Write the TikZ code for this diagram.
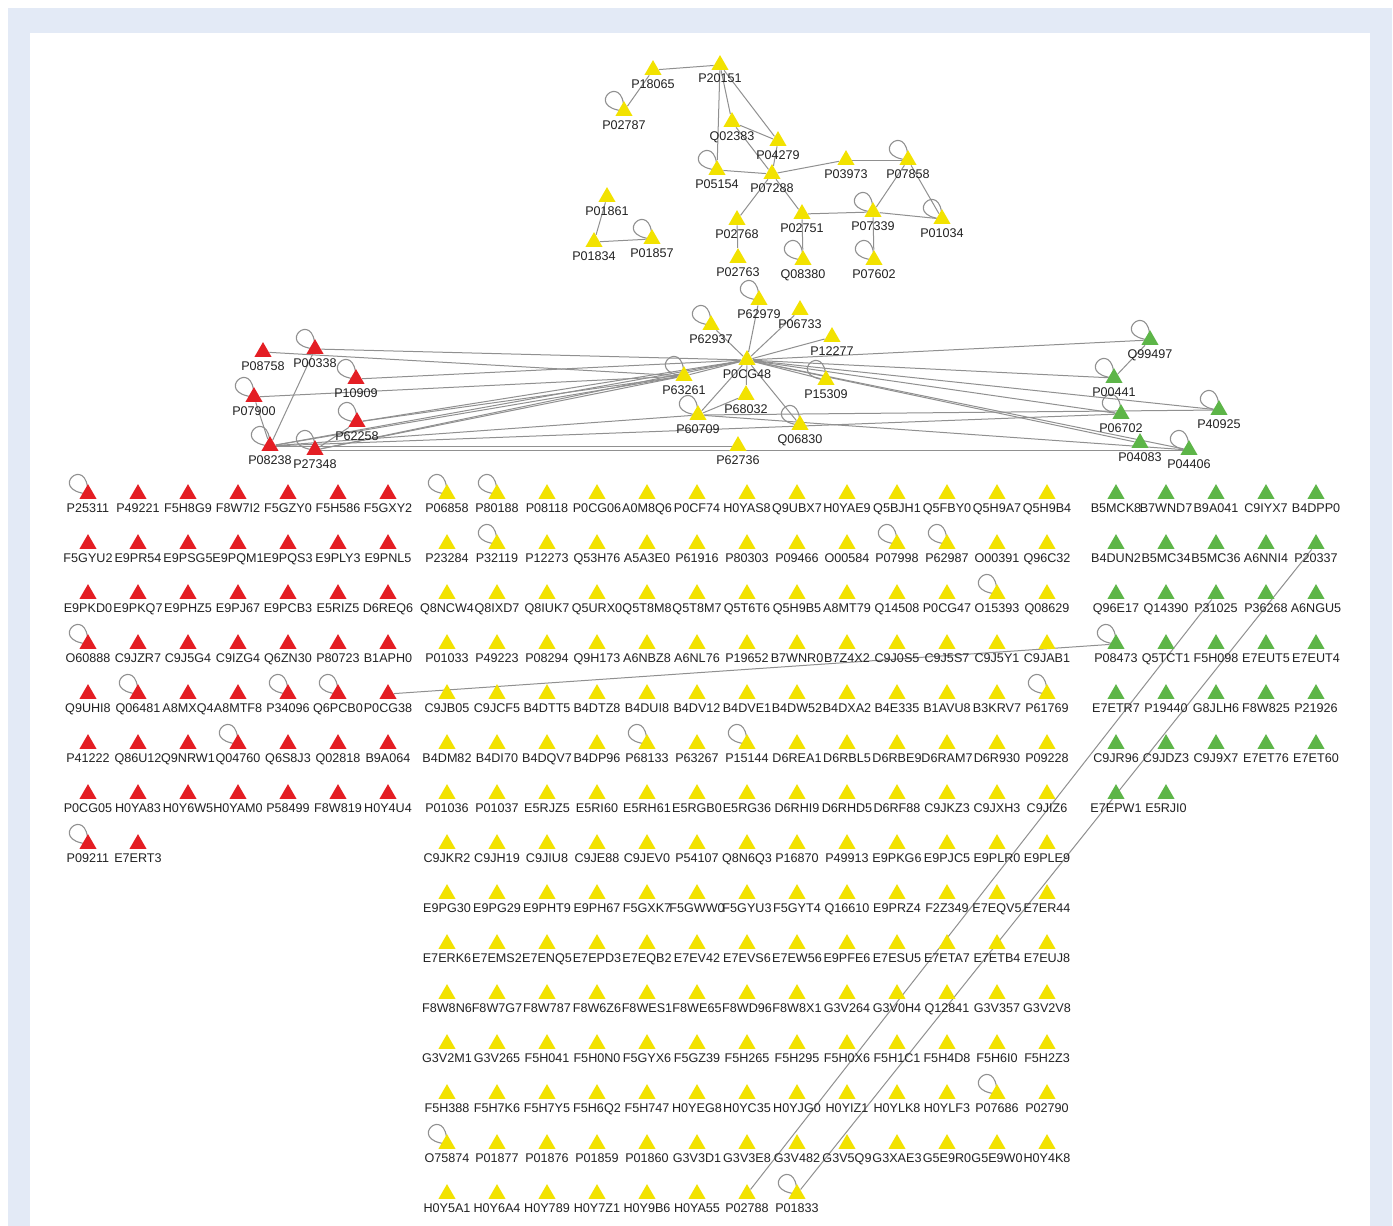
\documentclass[tikz,border=0pt]{standalone}
\usepackage{fontspec}
\setmainfont{Liberation Sans}
\usetikzlibrary{shapes.geometric}
\definecolor{bgblue}{HTML}{E3EAF6}
\definecolor{cred}{HTML}{E41E24}
\definecolor{cyel}{HTML}{F2E200}
\definecolor{cgrn}{HTML}{5DB548}
\definecolor{cedge}{HTML}{909090}
\definecolor{labc}{HTML}{222222}
\pgfdeclarelayer{back}
\pgfdeclarelayer{bg}
\pgfsetlayers{back,bg,main}
\newcommand{\labfont}{\fontsize{6.3}{7}\selectfont}
\tikzset{
 tri/.style={regular polygon, regular polygon sides=3, minimum size=9.9pt, inner sep=0pt, draw=none},
 lab/.style={font=\labfont, inner sep=0pt, anchor=base, text=labc},
 link/.style={draw=cedge, line width=0.5pt},
 selfloop/.style={draw=cedge, line width=0.55pt},
}
\newcommand{\TN}[4]{\node[tri,fill=#1] (#2) at (#3,#4) {}; \node[lab] (#2-t) at (#3,#4+18) {#2};}
\newcommand{\LP}[1]{\draw[selfloop] (#1.center) .. controls +(0,-42) and +(-42,-4) .. (#1.center);}
\begin{document}
\begin{tikzpicture}[x=0.5pt,y=-0.5pt]
\useasboundingbox (0,0) rectangle (1393,1226);
\begin{pgfonlayer}{back}
\fill[white] (0,0) rectangle (1393,1226);
\fill[bgblue] (8,8) rectangle (1392,1226);
\fill[white] (30,33) rectangle (1370,1226);
\end{pgfonlayer}

% ---------- top cluster ----------
\TN{cyel}{P18065}{653}{70}
\TN{cyel}{P20151}{720}{65}
\TN{cyel}{P02787}{624}{111}
\TN{cyel}{Q02383}{732}{122}
\TN{cyel}{P04279}{778}{141}
\TN{cyel}{P05154}{717}{170}
\TN{cyel}{P07288}{772}{174}
\TN{cyel}{P03973}{846}{160}
\TN{cyel}{P07858}{908}{160}
\TN{cyel}{P01861}{607}{197}
\TN{cyel}{P01834}{594}{242}
\TN{cyel}{P01857}{652}{239}
\TN{cyel}{P02768}{737}{220}
\TN{cyel}{P02751}{802}{214}
\TN{cyel}{P07339}{873}{212}
\TN{cyel}{P01034}{942}{219}
\TN{cyel}{P02763}{738}{258}
\TN{cyel}{Q08380}{803}{260}
\TN{cyel}{P07602}{874}{260}

% ---------- middle cluster ----------
\TN{cred}{P08758}{263}{352}
\TN{cred}{P00338}{315}{349}
\TN{cred}{P10909}{356}{379}
\TN{cred}{P07900}{254}{397}
\TN{cred}{P62258}{357}{422}
\TN{cred}{P08238}{270}{446}
\TN{cred}{P27348}{315}{450}
\TN{cyel}{P63261}{684}{376}
\TN{cyel}{P62937}{711}{325}
\TN{cyel}{P60709}{698}{415}
\TN{cyel}{P62736}{738}{446}
\TN{cyel}{P0CG48}{747}{360}
\TN{cyel}{P62979}{759}{300}
\TN{cyel}{P06733}{800}{310}
\TN{cyel}{P12277}{832}{337}
\TN{cyel}{P15309}{826}{380}
\TN{cyel}{P68032}{746}{395}
\TN{cyel}{Q06830}{800}{425}
\TN{cgrn}{Q99497}{1150}{340}
\TN{cgrn}{P00441}{1114}{378}
\TN{cgrn}{P06702}{1121}{414}
\TN{cgrn}{P40925}{1219}{410}
\TN{cgrn}{P04083}{1140}{443}
\TN{cgrn}{P04406}{1189}{450}

% ---------- red grid ----------
\foreach \lab [count=\i from 0] in {P25311,P49221,F5H8G9,F8W7I2,F5GZY0,F5H586,F5GXY2,
F5GYU2,E9PR54,E9PSG5,E9PQM1,E9PQS3,E9PLY3,E9PNL5,
E9PKD0,E9PKQ7,E9PHZ5,E9PJ67,E9PCB3,E5RIZ5,D6REQ6,
O60888,C9JZR7,C9J5G4,C9IZG4,Q6ZN30,P80723,B1APH0,
Q9UHI8,Q06481,A8MXQ4,A8MTF8,P34096,Q6PCB0,P0CG38,
P41222,Q86U12,Q9NRW1,Q04760,Q6S8J3,Q02818,B9A064,
P0CG05,H0YA83,H0Y6W5,H0YAM0,P58499,F8W819,H0Y4U4,
P09211,E7ERT3}{
 \pgfmathtruncatemacro\cc{mod(\i,7)}
 \pgfmathtruncatemacro\rr{div(\i,7)}
 \node[tri,fill=cred] (\lab) at (88+50*\cc,494+50*\rr) {};
 \node[lab] (\lab-t) at (88+50*\cc,512+50*\rr) {\lab};
}

% ---------- yellow grid ----------
\foreach \lab [count=\i from 0] in {P06858,P80188,P08118,P0CG06,A0M8Q6,P0CF74,H0YAS8,Q9UBX7,H0YAE9,Q5BJH1,Q5FBY0,Q5H9A7,Q5H9B4,
P23284,P32119,P12273,Q53H76,A5A3E0,P61916,P80303,P09466,O00584,P07998,P62987,O00391,Q96C32,
Q8NCW4,Q8IXD7,Q8IUK7,Q5URX0,Q5T8M8,Q5T8M7,Q5T6T6,Q5H9B5,A8MT79,Q14508,P0CG47,O15393,Q08629,
P01033,P49223,P08294,Q9H173,A6NBZ8,A6NL76,P19652,B7WNR0,B7Z4X2,C9J0S5,C9J5S7,C9J5Y1,C9JAB1,
C9JB05,C9JCF5,B4DTT5,B4DTZ8,B4DUI8,B4DV12,B4DVE1,B4DW52,B4DXA2,B4E335,B1AVU8,B3KRV7,P61769,
B4DM82,B4DI70,B4DQV7,B4DP96,P68133,P63267,P15144,D6REA1,D6RBL5,D6RBE9,D6RAM7,D6R930,P09228,
P01036,P01037,E5RJZ5,E5RI60,E5RH61,E5RGB0,E5RG36,D6RHI9,D6RHD5,D6RF88,C9JKZ3,C9JXH3,C9JIZ6,
C9JKR2,C9JH19,C9JIU8,C9JE88,C9JEV0,P54107,Q8N6Q3,P16870,P49913,E9PKG6,E9PJC5,E9PLR0,E9PLE9,
E9PG30,E9PG29,E9PHT9,E9PH67,F5GXK7,F5GWW0,F5GYU3,F5GYT4,Q16610,E9PRZ4,F2Z349,E7EQV5,E7ER44,
E7ERK6,E7EMS2,E7ENQ5,E7EPD3,E7EQB2,E7EV42,E7EVS6,E7EW56,E9PFE6,E7ESU5,E7ETA7,E7ETB4,E7EUJ8,
F8W8N6,F8W7G7,F8W787,F8W6Z6,F8WES1,F8WE65,F8WD96,F8W8X1,G3V264,G3V0H4,Q12841,G3V357,G3V2V8,
G3V2M1,G3V265,F5H041,F5H0N0,F5GYX6,F5GZ39,F5H265,F5H295,F5H0X6,F5H1C1,F5H4D8,F5H6I0,F5H2Z3,
F5H388,F5H7K6,F5H7Y5,F5H6Q2,F5H747,H0YEG8,H0YC35,H0YJG0,H0YIZ1,H0YLK8,H0YLF3,P07686,P02790,
O75874,P01877,P01876,P01859,P01860,G3V3D1,G3V3E8,G3V482,G3V5Q9,G3XAE3,G5E9R0,G5E9W0,H0Y4K8,
H0Y5A1,H0Y6A4,H0Y789,H0Y7Z1,H0Y9B6,H0YA55,P02788,P01833}{
 \pgfmathtruncatemacro\cc{mod(\i,13)}
 \pgfmathtruncatemacro\rr{div(\i,13)}
 \node[tri,fill=cyel] (\lab) at (447+50*\cc,494+50*\rr) {};
 \node[lab] (\lab-t) at (447+50*\cc,512+50*\rr) {\lab};
}

% ---------- green grid ----------
\foreach \lab [count=\i from 0] in {B5MCK8,B7WND7,B9A041,C9IYX7,B4DPP0,
B4DUN2,B5MC34,B5MC36,A6NNI4,P20337,
Q96E17,Q14390,P31025,P36268,A6NGU5,
P08473,Q5TCT1,F5H098,E7EUT5,E7EUT4,
E7ETR7,P19440,G8JLH6,F8W825,P21926,
C9JR96,C9JDZ3,C9J9X7,E7ET76,E7ET60,
E7EPW1,E5RJI0}{
 \pgfmathtruncatemacro\cc{mod(\i,5)}
 \pgfmathtruncatemacro\rr{div(\i,5)}
 \node[tri,fill=cgrn] (\lab) at (1116+50*\cc,494+50*\rr) {};
 \node[lab] (\lab-t) at (1116+50*\cc,512+50*\rr) {\lab};
}

\begin{pgfonlayer}{bg}
% top cluster edges
\draw[link] (P18065) -- (P20151);
\draw[link] (P18065) -- (P02787);
\draw[link] (P20151) -- (P05154);
\draw[link] (P20151) -- (Q02383);
\draw[link] (P20151) -- (P04279);
\draw[link] (Q02383) -- (P04279);
\draw[link] (Q02383) -- (P07288);
\draw[link] (P05154) -- (P07288);
\draw[link] (P04279) -- (P07288);
\draw[link] (P07288) -- (P03973);
\draw[link] (P03973) -- (P07858);
\draw[link] (P07288) -- (P02768);
\draw[link] (P07288) -- (P02751);
\draw[link] (P02751) -- (P07339);
\draw[link] (P07339) -- (P01034);
\draw[link] (P07858) -- (P07339);
\draw[link] (P07858) -- (P01034);
\draw[link] (P07339) -- (P07602);
\draw[link] (P02751) -- (Q08380);
\draw[link] (P02768) -- (P02763);
\draw[link] (P01861) -- (P01834);
\draw[link] (P01834) -- (P01857);
% middle cluster edges
\foreach \n in {P62937,P62979,P06733,P12277,P63261,P15309,P68032,P60709,Q06830,P00338,P10909,P62258,P08238,P27348,Q99497,P00441,P06702,P40925,P04083,P04406}
 {\draw[link] (P0CG48) -- (\n);}
\foreach \n in {P08758,P07900,P08238,P27348,P62258}
 {\draw[link] (P63261) -- (\n);}
\foreach \n in {P68032,P08238,P40925,P04406}
 {\draw[link] (P60709) -- (\n);}
\draw[link] (P08238) -- (P00338);
\draw[link] (P08238) -- (P07900);
\draw[link] (P08238) -- (P62736);
\draw[link] (P08238) -- (P06702);
\draw[link] (P27348) -- (P62258);
\draw[link] (P27348) -- (P04406);
\draw[link] (Q99497) -- (P00441);
% long grid edges
\draw[link] (P0CG38) -- (P08473);
\draw[link] (P02788) -- (P31025);
\draw[link] (P01833) -- (P20337);
% self loops
\foreach \n in {P02787,P05154,P07858,P07339,P01034,Q08380,P07602,P01857,
P00338,P10909,P07900,P62258,P08238,P27348,P63261,P62937,P60709,P62979,P15309,Q06830,
Q99497,P00441,P06702,P40925,P04406,
P25311,O60888,Q06481,P34096,Q6PCB0,Q04760,P09211,
P06858,P80188,P32119,P07998,P62987,O15393,P61769,P68133,P15144,P07686,O75874,P01833,
P08473}
 {\LP{\n}}
\end{pgfonlayer}
\end{tikzpicture}
\end{document}
